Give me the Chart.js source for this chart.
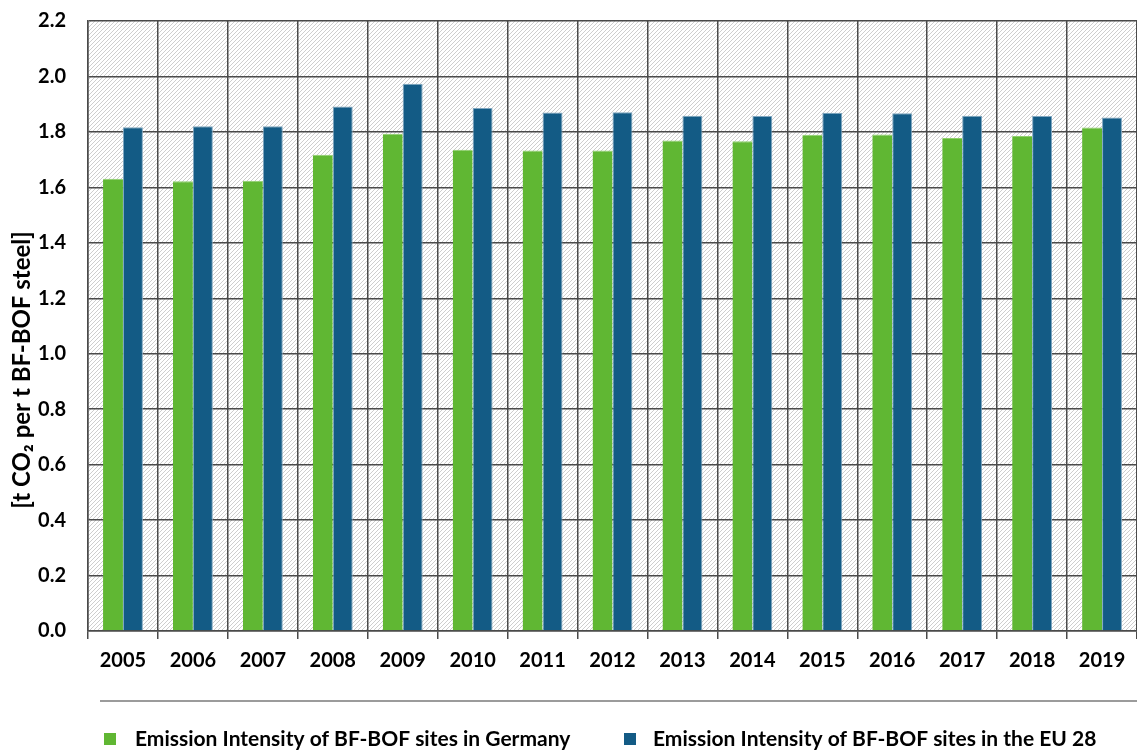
<!DOCTYPE html>
<html>
<head>
<meta charset="utf-8">
<script src="https://cdn.jsdelivr.net/npm/chart.js@4"></script>
<style>
  html, body { margin: 0; padding: 0; background: #fff; }
</style>
</head>
<body>
<canvas id="barChart" width="1137" height="751"></canvas>
<script>
const years = ['2005', '2006', '2007', '2008', '2009', '2010', '2011', '2012', '2013', '2014', '2015', '2016', '2017', '2018', '2019'];
const germany = [1.631, 1.622, 1.624, 1.718, 1.793, 1.736, 1.733, 1.733, 1.769, 1.766, 1.790, 1.791, 1.778, 1.785, 1.816];
const eu28 = [1.817, 1.820, 1.820, 1.892, 1.974, 1.886, 1.870, 1.871, 1.858, 1.857, 1.869, 1.867, 1.858, 1.857, 1.852];
const yTicks = [0, 0.2, 0.4, 0.6, 0.8, 1.0, 1.2, 1.4, 1.6, 1.8, 2.0, 2.2];
const yTitle = '[t CO₂ per t BF-BOF steel]';

const FONT = 'Lato, "Open Sans", sans-serif';

// diagonal hatch used behind the bars
function hatchPattern(ctx) {
    const s = 4;
    const c = document.createElement('canvas');
    c.width = s; c.height = s;
    const p = c.getContext('2d');
    p.fillStyle = '#ffffff';
    p.fillRect(0, 0, s, s);
    p.strokeStyle = '#c8c8c8';
    p.lineWidth = 0.9;
    p.beginPath();
    p.moveTo(0, s); p.lineTo(s, 0);
    p.moveTo(-1, 1); p.lineTo(1, -1);
    p.moveTo(s - 1, s + 1); p.lineTo(s + 1, s - 1);
    p.stroke();
    return ctx.createPattern(c, 'repeat');
}

const hatchBackground = {
    id: 'hatchBackground',
    beforeDraw(chart) {
        const { ctx, chartArea: a } = chart;
        ctx.save();
        ctx.fillStyle = hatchPattern(ctx);
        ctx.fillRect(a.left, a.top, a.right - a.left, a.bottom - a.top);
        ctx.restore();
    }
};

// unit label sits a bit below the middle of the axis, so it is drawn here
const unitLabel = {
    id: 'unitLabel',
    afterDraw(chart) {
        const { ctx } = chart;
        ctx.save();
        ctx.translate(22, 370);
        ctx.rotate(-Math.PI / 2);
        ctx.font = 'bold 24px ' + FONT;
        ctx.fillStyle = '#000';
        ctx.textAlign = 'center';
        ctx.textBaseline = 'middle';
        ctx.fillText(yTitle, 0, 0);
        ctx.restore();
    }
};

// legend under a thin rule, drawn by hand so it can sit where it should
const bottomLegend = {
    id: 'bottomLegend',
    afterDraw(chart) {
        const { ctx, width } = chart;
        ctx.save();
        ctx.strokeStyle = '#7a7a7a';
        ctx.lineWidth = 1.5;
        ctx.beginPath();
        ctx.moveTo(100, 701);
        ctx.lineTo(width, 701);
        ctx.stroke();

        const spots = [{ box: 104, text: 135 }, { box: 624, text: 653 }];
        ctx.font = 'bold 21px ' + FONT;
        ctx.textBaseline = 'middle';
        chart.data.datasets.forEach((ds, i) => {
            ctx.fillStyle = ds.backgroundColor;
            ctx.fillRect(spots[i].box, 733, 12, 12);
            ctx.fillStyle = '#000';
            ctx.fillText(ds.label, spots[i].text, 739);
        });
        ctx.restore();
    }
};

const ctx = document.getElementById('barChart').getContext('2d');
const myChart = new Chart(ctx, {
    type: 'bar',
    data: {
        labels: years,
        datasets: [{
            label: 'Emission Intensity of BF-BOF sites in Germany',
            data: germany,
            backgroundColor: '#60b733',
            borderColor: '#8fcf6c',
            borderWidth: { top: 1, left: 0, right: 0, bottom: 0 },
            borderSkipped: false
        }, {
            label: 'Emission Intensity of BF-BOF sites in the EU 28',
            data: eu28,
            backgroundColor: '#135b85',
            borderColor: '#7fa6c0',
            borderWidth: { top: 1, left: 1, right: 1, bottom: 0 },
            borderSkipped: false
        }]
    },
    options: {
        responsive: false,
        animation: false,
        layout: {
            padding: { top: 21, right: 0, bottom: 0, left: 0 }
        },
        datasets: {
            bar: { barPercentage: 1, categoryPercentage: 0.57 }
        },
        plugins: {
            legend: { display: false },
            tooltip: { enabled: false }
        },
        scales: {
            x: {
                afterFit(scale) {
                    scale.height = 120;
                    scale.paddingLeft = 0;
                    scale.paddingRight = 0;
                },
                grid: {
                    color: '#4a4a4a',
                    lineWidth: 1.5,
                    tickLength: 8,
                    offset: true
                },
                border: { color: '#4a4a4a', width: 1.5 },
                ticks: {
                    color: '#000',
                    padding: 10,
                    maxRotation: 0,
                    font: { family: FONT, size: 20, weight: 'bold' }
                }
            },
            y: {
                min: 0,
                max: 2.2,
                afterBuildTicks(scale) {
                    scale.ticks = yTicks.map(v => ({ value: v }));
                },
                afterFit(scale) {
                    scale.width = 88;
                    scale.paddingTop = 0;
                    scale.paddingBottom = 0;
                },
                grid: {
                    color: '#4a4a4a',
                    lineWidth: 1.5,
                    drawTicks: false
                },
                border: { color: '#4a4a4a', width: 1.5 },
                ticks: {
                    color: '#000',
                    padding: 22,
                    font: { family: FONT, size: 20, weight: 'bold' },
                    callback: v => Number(v).toFixed(1)
                }
            }
        }
    },
    plugins: [hatchBackground, unitLabel, bottomLegend]
});
</script>
</body>
</html>
